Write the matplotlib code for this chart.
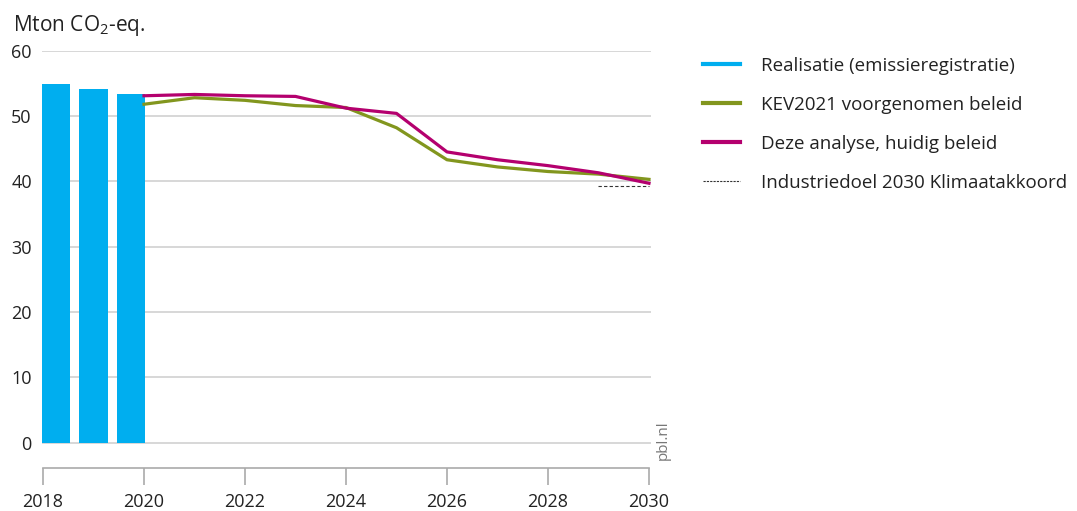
import matplotlib
matplotlib.use('Agg')
import matplotlib.pyplot as plt
from matplotlib.lines import Line2D

plt.rcParams['font.family'] = ['Open Sans', 'DejaVu Sans']
plt.rcParams['mathtext.default'] = 'regular'

# Realisatie (emissieregistratie)
jaren_real = [2018, 2019, 2020]
realisatie = [54.85, 54.1, 53.3]

# Projecties 2020-2030
jaren = list(range(2020, 2031))
kev2021 = [51.8, 52.8, 52.4, 51.6, 51.3, 48.2, 43.3, 42.2, 41.5, 41.1, 40.3]
huidig_beleid = [53.1, 53.3, 53.1, 53.0, 51.2, 50.4, 44.5, 43.3, 42.4, 41.3, 39.7]

# Industriedoel 2030
doel_jaren = [2029, 2030]
doel = [39.3, 39.3]

x_ticks = [2018, 2020, 2022, 2024, 2026, 2028, 2030]
y_ticks = [0, 10, 20, 30, 40, 50, 60]

kleur_real = '#00aeef'
kleur_kev = '#82961e'
kleur_huidig = '#b4006e'
grijs = '#d4d4d4'
tekst = '#222222'

fig = plt.figure(figsize=(10.77, 5.11), dpi=100)
ax = fig.add_axes([41.5 / 1077, 1 - 468 / 511, 609 / 1077, (468 - 50.7) / 511])

# staven staan in het vak 2018-2020 (drie gelijke stukken)
posities = [2019 + (j - 2019) * 0.75 for j in jaren_real]
ax.bar(posities, realisatie, width=0.555, color=kleur_real, zorder=2)

ax.plot(jaren, kev2021, color=kleur_kev, linewidth=2.3, zorder=3)
ax.plot(jaren, huidig_beleid, color=kleur_huidig, linewidth=2.3, zorder=4)
ax.plot(doel_jaren, doel, color='#333333', linewidth=0.8, linestyle=(0, (3, 2)), zorder=5)

ax.set_xlim(2017.97, 2030.03)
ax.set_ylim(-3.9, 60)

for y in y_ticks:
    ax.axhline(y, color=grijs, linewidth=1.3, zorder=1)

ax.set_yticks(y_ticks)
ax.set_yticklabels([str(y) for y in y_ticks], fontsize=13, color=tekst)
ax.tick_params(axis='y', length=0, pad=7)
ax.set_xticks(x_ticks)
ax.set_xticklabels([str(x) for x in x_ticks], fontsize=13, color=tekst)
ax.tick_params(axis='x', length=12, width=1.2, color='#aaaaaa', pad=6)

for s in ['top', 'right', 'left']:
    ax.spines[s].set_visible(False)
ax.spines['bottom'].set_color('#aaaaaa')
ax.spines['bottom'].set_linewidth(1.2)
ax.spines['bottom'].set_bounds(2018, 2030)

fig.text(13 / 1077, 1 - 26 / 511, 'Mton CO$_2$-eq.', fontsize=15, color=tekst, va='center', ha='left')
fig.text(663 / 1077, 1 - 440 / 511, 'pbl.nl', fontsize=11, color='#777777', rotation=90, ha='center', va='center')

handles = [
    Line2D([], [], color=kleur_real, linewidth=3),
    Line2D([], [], color=kleur_kev, linewidth=3),
    Line2D([], [], color=kleur_huidig, linewidth=3),
    Line2D([], [], color='#333333', linewidth=0.8, linestyle=(0, (2, 1))),
]
labels = ['Realisatie (emissieregistratie)', 'KEV2021 voorgenomen beleid',
          'Deze analyse, huidig beleid', 'Industriedoel 2030 Klimaatakkoord']
leg = fig.legend(handles, labels, loc='upper left', bbox_to_anchor=(686 / 1077, 1 - 40 / 511),
                 frameon=False, fontsize=13.5, handlelength=2.0, handletextpad=1.1,
                 labelspacing=1.12)
for t in leg.get_texts():
    t.set_color(tekst)

fig.savefig('out.png', dpi=100)
